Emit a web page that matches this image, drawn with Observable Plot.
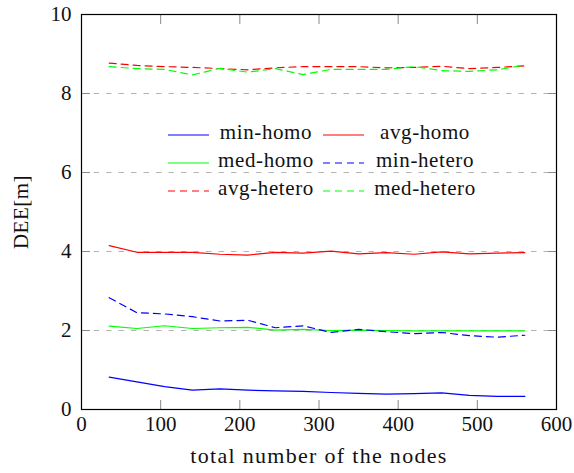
<!DOCTYPE html>
<html>
<head>
<meta charset="utf-8">
<script src="https://cdn.jsdelivr.net/npm/d3@7"></script>
<script src="https://cdn.jsdelivr.net/npm/@observablehq/plot@0.6"></script>
<style>
  body { margin: 0; background: #fff; }
  #wrap { position: relative; width: 574px; height: 473px; font-family: "Liberation Serif", serif; }
  .lg-line { position: absolute; height: 10px; }
  .lg-line svg { display: block; }
  .lg-text { position: absolute; width: 200px; text-align: center; font-size: 21px; line-height: 24px; letter-spacing: 0.6px; color: #111; white-space: nowrap; }
  g[aria-label="x-axis label"] text { letter-spacing: 1.3px; }
  g[aria-label="y-axis label"] text { letter-spacing: 0.5px; }
</style>
</head>
<body>
<div id="wrap"></div>
<script>
const nodes = [35, 70, 105, 140, 175, 210, 245, 280, 315, 350, 385, 420, 455, 490, 525, 560];
const minHomo   = [0.82, 0.70, 0.58, 0.49, 0.52, 0.49, 0.47, 0.46, 0.43, 0.41, 0.39, 0.40, 0.42, 0.36, 0.33, 0.33];
const avgHomo   = [4.15, 3.98, 3.98, 3.98, 3.93, 3.91, 3.98, 3.96, 4.01, 3.94, 3.97, 3.93, 3.99, 3.94, 3.96, 3.97];
const medHomo   = [2.11, 2.05, 2.12, 2.05, 2.07, 2.08, 2.01, 2.03, 2.00, 2.01, 2.00, 1.99, 1.99, 1.99, 1.99, 1.99];
const minHetero = [2.83, 2.45, 2.42, 2.35, 2.24, 2.26, 2.07, 2.12, 1.95, 2.03, 1.97, 1.92, 1.95, 1.87, 1.83, 1.88];
const avgHetero = [8.77, 8.71, 8.68, 8.66, 8.63, 8.60, 8.65, 8.68, 8.68, 8.68, 8.65, 8.66, 8.69, 8.63, 8.66, 8.70];
const medHetero = [8.68, 8.63, 8.61, 8.47, 8.64, 8.54, 8.63, 8.48, 8.61, 8.61, 8.61, 8.68, 8.58, 8.56, 8.60, 8.72];

const xTicks = [0, 100, 200, 300, 400, 500, 600];
const yTicks = [0, 2, 4, 6, 8, 10];
const gridValues = [2, 4, 6, 8];

const seriesList = [
  {name: "min-homo",   values: minHomo,   color: "#0000ff", dash: null},
  {name: "avg-homo",   values: avgHomo,   color: "#ff0000", dash: null},
  {name: "med-homo",   values: medHomo,   color: "#00ff00", dash: null},
  {name: "min-hetero", values: minHetero, color: "#0000ff", dash: "7,5"},
  {name: "avg-hetero", values: avgHetero, color: "#ff0000", dash: "7,5"},
  {name: "med-hetero", values: medHetero, color: "#00ff00", dash: "7,5"}
];

const lineMarks = seriesList.map(s =>
  Plot.line(nodes.map((n, i) => ({x: n, y: s.values[i]})), {
    x: "x", y: "y", stroke: s.color, strokeWidth: 1.2,
    strokeDasharray: s.dash || undefined
  })
);

const chart = Plot.plot({
  width: 574,
  height: 473,
  marginLeft: 81,
  marginRight: 18,
  marginTop: 14,
  marginBottom: 64,
  style: {fontFamily: "'Liberation Serif', serif", fontSize: "21px", color: "#111", background: "#fff"},
  x: {domain: [0, 600]},
  y: {domain: [0, 10]},
  marks: [
    Plot.ruleY(gridValues, {stroke: "#b4b4b4", strokeWidth: 1, strokeDasharray: "5.5,7"}),
    ...lineMarks,
    Plot.axisX(xTicks, {anchor: "bottom", tickSize: -9, stroke: "#8a8a8a", tickFormat: () => "", label: null}),
    Plot.axisX(xTicks, {anchor: "top", tickSize: -9, stroke: "#8a8a8a", tickFormat: () => "", label: null}),
    Plot.axisY(yTicks, {anchor: "left", tickSize: -9, stroke: "#8a8a8a", tickFormat: () => "", label: null}),
    Plot.axisY(yTicks, {anchor: "right", tickSize: -9, stroke: "#8a8a8a", tickFormat: () => "", label: null}),
    Plot.axisX(xTicks, {anchor: "bottom", tickSize: 0, tickPadding: 7, fontSize: 21, label: null}),
    Plot.axisX({anchor: "bottom", ticks: [], label: "total number of the nodes", labelAnchor: "center", labelArrow: "none", labelOffset: 53, fontSize: 22}),
    Plot.axisY(yTicks, {anchor: "left", tickSize: 0, tickPadding: 10, fontSize: 21, label: null}),
    Plot.axisY({anchor: "left", ticks: [], label: "DEE[m]", labelAnchor: "center", labelArrow: "none", labelOffset: 68, fontSize: 21}),
    Plot.frame({stroke: "#000", strokeWidth: 1.2})
  ]
});
document.getElementById("wrap").appendChild(chart);

// Legend overlay (2 columns x 3 rows), positioned inside the plot area
const wrap = document.getElementById("wrap");
const legendCols = [{lineX: 168, labelCenter: 266}, {lineX: 323, labelCenter: 425}];
const legendRows = [135, 163, 191];
seriesList.forEach((s, i) => {
  const col = legendCols[i % 2];
  const rowY = legendRows[Math.floor(i / 2)];
  const ln = document.createElement("div");
  ln.className = "lg-line";
  ln.style.left = col.lineX + "px";
  ln.style.top = (rowY - 5) + "px";
  ln.innerHTML = `<svg width="42" height="10"><line x1="0" y1="5" x2="41" y2="5" stroke="${s.color}" stroke-width="1.2" ${s.dash ? `stroke-dasharray="${s.dash}"` : ""}/></svg>`;
  wrap.appendChild(ln);
  const tx = document.createElement("div");
  tx.className = "lg-text";
  tx.style.left = (col.labelCenter - 100) + "px";
  tx.style.top = (rowY - 14.8) + "px";
  tx.textContent = s.name;
  wrap.appendChild(tx);
});
</script>
</body>
</html>
